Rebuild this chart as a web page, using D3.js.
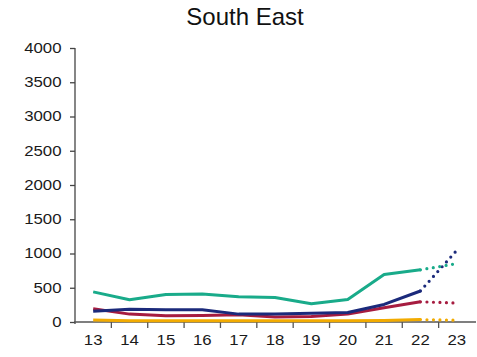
<!DOCTYPE html>
<html><head><meta charset="utf-8">
<script src="https://cdn.jsdelivr.net/npm/d3@7"></script>
<style>body{margin:0;background:#fff}svg{display:block}</style>
</head><body>
<svg id="c" width="477" height="357"></svg>
<script>
const title = "South East";
const categories = ["13","14","15","16","17","18","19","20","21","22","23"];
const yTicks = [0,500,1000,1500,2000,2500,3000,3500,4000];
// actual values 13..22, projection 22..23
const teal    = [440, 325, 400, 410, 370, 358, 265, 330, 692, 762];
const tealP   = [762, 852];
const navy    = [158, 185, 180, 180, 115, 118, 128, 138, 256, 453];
const navyP   = [453, 1047];
const crimson = [195, 115, 90, 95, 105, 73, 80, 115, 207, 295];
const crimsonP= [295, 277];
const yellow  = [30, 20, 18, 18, 20, 18, 18, 18, 22, 35];
const yellowP = [35, 25];

const series = [
  {vals: yellow, proj: yellowP, color: "#f2ab00"},
  {vals: crimson, proj: crimsonP, color: "#a61c40"},
  {vals: navy, proj: navyP, color: "#1b2a7b"},
  {vals: teal, proj: tealP, color: "#19ab8a"}
];

const svg = d3.select("#c");
const x = d3.scaleBand().domain(categories).range([75, 475]).padding(0);
const y = d3.scaleLinear().domain([0, 4000]).range([322, 48]);
const cx = c => x(c) + x.bandwidth() / 2;

svg.append("text").attr("x", 245).attr("y", 25).attr("text-anchor", "middle")
  .attr("font-family", "Liberation Sans, Arial, sans-serif").attr("font-size", 24)
  .attr("fill", "#111").text(title);

const SX = 1.2;
// Y axis
const gy = svg.append("g").attr("transform", "translate(75,0)")
  .call(d3.axisLeft(y).tickValues(yTicks).tickSize(5).tickSizeOuter(0).tickPadding(8).tickFormat(d3.format("d")));
gy.select(".domain").attr("stroke", "#444").attr("stroke-width", 1.3).attr("d", "M0,48V324");
gy.selectAll(".tick line").attr("stroke", "#444").attr("stroke-width", 1.3);
gy.selectAll(".tick text").attr("font-family", "Liberation Sans, Arial, sans-serif").attr("font-size", 14)
  .attr("fill", "#1a1a1a").attr("x", -13.5 / SX).attr("transform", `scale(${SX},1)`);

// X axis (labels centred in bands, ticks on band boundaries)
const gx = svg.append("g").attr("transform", "translate(0,322)")
  .call(d3.axisBottom(x).tickSize(0).tickPadding(13));
gx.select(".domain").attr("stroke", "#555").attr("stroke-width", 1.3).attr("d", "M74,0H476");
gx.selectAll(".tick text").attr("font-family", "Liberation Sans, Arial, sans-serif").attr("font-size", 14)
  .attr("fill", "#1a1a1a").attr("x", 0);
gx.selectAll(".tick").each(function(d){
  const px = cx(d);
  d3.select(this).attr("transform", null);
  d3.select(this).select("text").attr("transform", `translate(${px},0) scale(${SX},1)`);
});
const bounds = categories.slice(1).map(c => x(c));
gx.selectAll(".bt").data(bounds).enter().append("line").attr("class", "bt")
  .attr("x1", d => d).attr("x2", d => d).attr("y1", 0).attr("y2", 6)
  .attr("stroke", "#555").attr("stroke-width", 1.3);

const line = d3.line().x(d => cx(d.c)).y(d => y(d.v));
series.forEach(s => {
  const pts = s.vals.map((v, i) => ({c: categories[i], v}));
  svg.append("path").attr("d", line(pts)).attr("fill", "none")
    .attr("stroke", s.color).attr("stroke-width", 3).attr("stroke-linejoin", "round");
  const pp = s.proj.map((v, i) => ({c: categories[9 + i], v}));
  svg.append("path").attr("d", line(pp)).attr("fill", "none")
    .attr("stroke", s.color).attr("stroke-width", 3.2).attr("stroke-linecap", "round")
    .attr("stroke-dasharray", "0 6.5").attr("stroke-dashoffset", -6.5);
});
</script>
</body></html>
